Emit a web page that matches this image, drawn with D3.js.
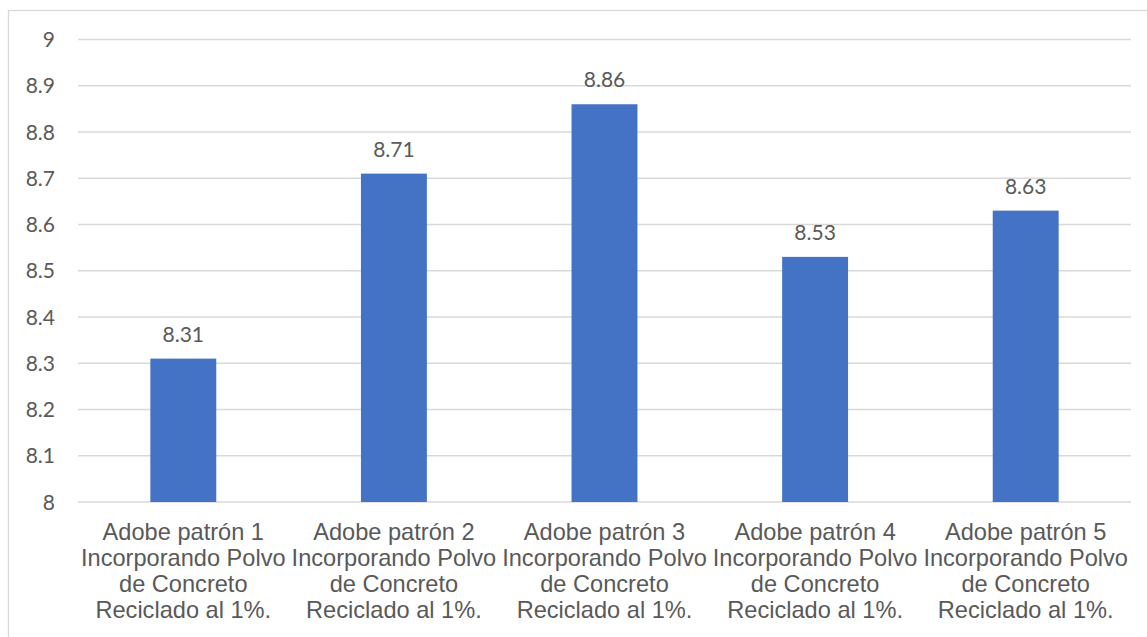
<!DOCTYPE html>
<html>
<head>
<meta charset="utf-8">
<script src="https://cdn.jsdelivr.net/npm/d3@7"></script>
<style>
  html, body { margin: 0; padding: 0; background: #fff; }
  svg { display: block; }
</style>
</head>
<body>
<svg id="chart" width="1147" height="637"></svg>
<script>
// Category labels, already split into the lines they wrap to
const categoryLines = [
  ["Adobe patrón 1", "Incorporando Polvo", "de Concreto", "Reciclado al 1%."],
  ["Adobe patrón 2", "Incorporando Polvo", "de Concreto", "Reciclado al 1%."],
  ["Adobe patrón 3", "Incorporando Polvo", "de Concreto", "Reciclado al 1%."],
  ["Adobe patrón 4", "Incorporando Polvo", "de Concreto", "Reciclado al 1%."],
  ["Adobe patrón 5", "Incorporando Polvo", "de Concreto", "Reciclado al 1%."]
];
const categories = categoryLines.map(l => l.join(" "));
const values = [8.31, 8.71, 8.86, 8.53, 8.63];
const yTicks = [8, 8.1, 8.2, 8.3, 8.4, 8.5, 8.6, 8.7, 8.8, 8.9, 9];
const yDomain = [8, 9];

const svg = d3.select("#chart");
const W = 1147, H = 637;
const plot = { left: 78, right: 1131, top: 39.5, bottom: 502 };

const textColor = "#595959";
const gridColor = "#D9D9D9";
const barColor = "#4472C4";
const numFont = "Lato, 'Open Sans', sans-serif";
const catFont = "'Liberation Sans', Arial, sans-serif";

// Chart frame
svg.append("rect")
  .attr("x", 8.5).attr("y", 10.5)
  .attr("width", W).attr("height", H)
  .attr("fill", "#fff")
  .attr("stroke", gridColor).attr("stroke-width", 1.3);

const x = d3.scaleBand()
  .domain(categories)
  .range([plot.left, plot.right])
  .paddingInner(0.687)
  .paddingOuter(0.3435);

const y = d3.scaleLinear()
  .domain(yDomain)
  .range([plot.bottom, plot.top]);

// Horizontal gridlines
svg.append("g")
  .selectAll("line")
  .data(yTicks)
  .join("line")
  .attr("x1", plot.left).attr("x2", plot.right)
  .attr("y1", d => y(d)).attr("y2", d => y(d))
  .attr("stroke", gridColor).attr("stroke-width", 1.3);

// Y tick labels
svg.append("g")
  .selectAll("text")
  .data(yTicks)
  .join("text")
  .attr("x", 55)
  .attr("y", d => y(d) + 7.5)
  .attr("text-anchor", "end")
  .attr("fill", textColor)
  .style("font-family", numFont)
  .style("font-size", "21px")
  .text(d => d3.format("~g")(d));

// Bars
svg.append("g")
  .selectAll("rect")
  .data(values)
  .join("rect")
  .attr("x", (d, i) => x(categories[i]))
  .attr("width", x.bandwidth())
  .attr("y", d => y(d))
  .attr("height", d => y(yDomain[0]) - y(d))
  .attr("fill", barColor);

// Value labels above bars
svg.append("g")
  .selectAll("text")
  .data(values)
  .join("text")
  .attr("x", (d, i) => x(categories[i]) + x.bandwidth() / 2)
  .attr("y", d => y(d) - 17)
  .attr("text-anchor", "middle")
  .attr("fill", textColor)
  .style("font-family", numFont)
  .style("font-size", "21px")
  .text(d => d3.format(".2f")(d));

// Category labels
const catG = svg.append("g");
categoryLines.forEach((lines, i) => {
  const cx = x(categories[i]) + x.bandwidth() / 2;
  const t = catG.append("text")
    .attr("text-anchor", "middle")
    .attr("fill", textColor)
    .style("font-family", catFont)
    .style("font-size", "23.6px");
  lines.forEach((line, j) => {
    t.append("tspan")
      .attr("x", cx)
      .attr("y", 539.5 + j * 26.3)
      .text(line);
  });
});
</script>
</body>
</html>
